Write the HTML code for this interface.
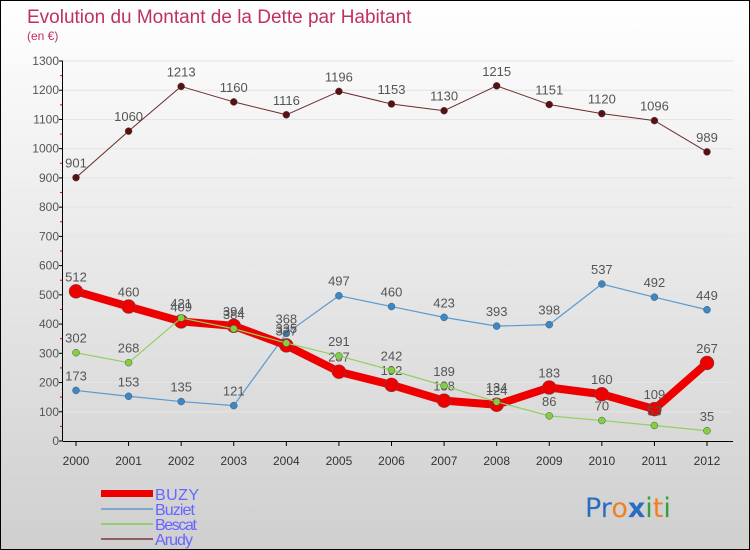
<!DOCTYPE html>
<html><head><meta charset="utf-8"><style>
body{margin:0}
#c{width:750px;height:550px;position:relative;overflow:hidden;box-sizing:border-box;border:1px solid #000;background:linear-gradient(#ffffff,#cfcfcf);font-family:"Liberation Sans",sans-serif}
</style></head><body>
<div id="c">
<svg width="750" height="550" id="s">
<text x="26" y="22" font-size="19" fill="#c03060">Evolution du Montant de la Dette par Habitant</text>
<text x="26" y="39" font-size="12" fill="#c03060">(en €)</text>
<g id="grid"></g><g id="axes"></g><g id="series"></g>
<g>
<rect x="100" y="489" width="52" height="7" fill="#e00"/>
<text x="154" y="499" font-size="16" fill="#6666ff" textLength="44">BUZY</text>
<line x1="100" y1="508" x2="152" y2="508" stroke="#80a8cc" stroke-width="2"/>
<text x="154" y="514" font-size="16" fill="#6666ff" textLength="40">Buziet</text>
<line x1="100" y1="523" x2="152" y2="523" stroke="#90d070" stroke-width="2"/>
<text x="154" y="529" font-size="16" fill="#6666ff" textLength="42">Bescat</text>
<line x1="100" y1="538" x2="152" y2="538" stroke="#906060" stroke-width="2"/>
<text x="154" y="544" font-size="16" fill="#6666ff" textLength="38">Arudy</text>
</g>
<text x="584" y="516" font-size="27" font-family="'DejaVu Sans',sans-serif"><tspan fill="#2a6cc0">Pr</tspan><tspan fill="#f08020">o</tspan><tspan fill="#2a6cc0" font-weight="bold">x</tspan><tspan fill="#30a040">i</tspan><tspan fill="#f08020">t</tspan><tspan fill="#30a040">i</tspan></text>
</svg></div>
<script>
const years=["2000","2001","2002","2003","2004","2005","2006","2007","2008","2009","2010","2011","2012"];
const buzy=[512,460,409,394,327,237,192,138,124,183,160,109,267];
const buziet=[173,153,135,121,368,497,460,423,393,398,537,492,449];
const bescat=[302,268,421,384,335,291,242,189,134,86,70,53,35];
const arudy=[901,1060,1213,1160,1116,1196,1153,1130,1215,1151,1120,1096,989];
const yTicks=[0,100,200,300,400,500,600,700,800,900,1000,1100,1200,1300];
const NS="http://www.w3.org/2000/svg";
const x=i=>75+i*(706-75)/(years.length-1);
const y=v=>440-v*(380/1300);
function mk(p,t,a){const e=document.createElementNS(NS,t);for(const k in a)e.setAttribute(k,a[k]);p.appendChild(e);return e;}
const grid=document.getElementById('grid'),axes=document.getElementById('axes'),ser=document.getElementById('series');
yTicks.forEach(v=>{
 const l=mk(grid,'line',{x1:62,x2:732,y1:y(v),y2:y(v),stroke:'#e4e4e4','stroke-width':1});
 
 
 const t=mk(axes,'text',{x:58,y:y(v)+4,'font-size':12,fill:'#555','text-anchor':'end'});t.textContent=v;
 
 
 mk(axes,'line',{x1:58,x2:62,y1:y(v),y2:y(v),stroke:'#000'});
 if(v<1300){mk(axes,'line',{x1:59,x2:62,y1:y(v+50),y2:y(v+50),stroke:'#e00'});}
});
const ax=mk(axes,'line',{x1:61.5,x2:61.5,y1:60,y2:440,stroke:'#000'});


const xa=mk(axes,'line',{x1:62,x2:732,y1:440.5,y2:440.5,stroke:'#000'});


years.forEach((yr,i)=>{
 mk(axes,'line',{x1:x(i),x2:x(i),y1:440,y2:445,stroke:'#000'});
 const t=mk(axes,'text',{x:x(i),y:464,'font-size':12,fill:'#333','text-anchor':'middle'});t.textContent=yr;
 
 
});
function draw(data,name,col,w,r,dot){
 const g=mk(ser,'g',{});
 
 
 const pl=mk(g,'polyline',{points:data.map((v,i)=>x(i)+','+y(v)).join(' '),fill:'none',stroke:col,'stroke-width':w,'stroke-linejoin':'round'});
 
 
 data.forEach((v,i)=>{
  const c=mk(g,'circle',{cx:x(i),cy:y(v),r:r,fill:dot,stroke:'#555','stroke-width':0.5});
  
  
  const t=mk(g,'text',{x:x(i),y:y(v)-10,'font-size':13,fill:'#555','text-anchor':'middle'});t.textContent=v;
  
  
 });
}
draw(arudy,'arudy','#6b2a2a',1,3.5,'#5a1010');
draw(buziet,'buziet','#5a9ad0',1.2,3.5,'#3a88c8');
draw(buzy,'buzy','#ee0000',8,7,'#ee0000');
draw(bescat,'bescat','#90d060',1.2,3.5,'#80d040');
</script>
</body></html>
